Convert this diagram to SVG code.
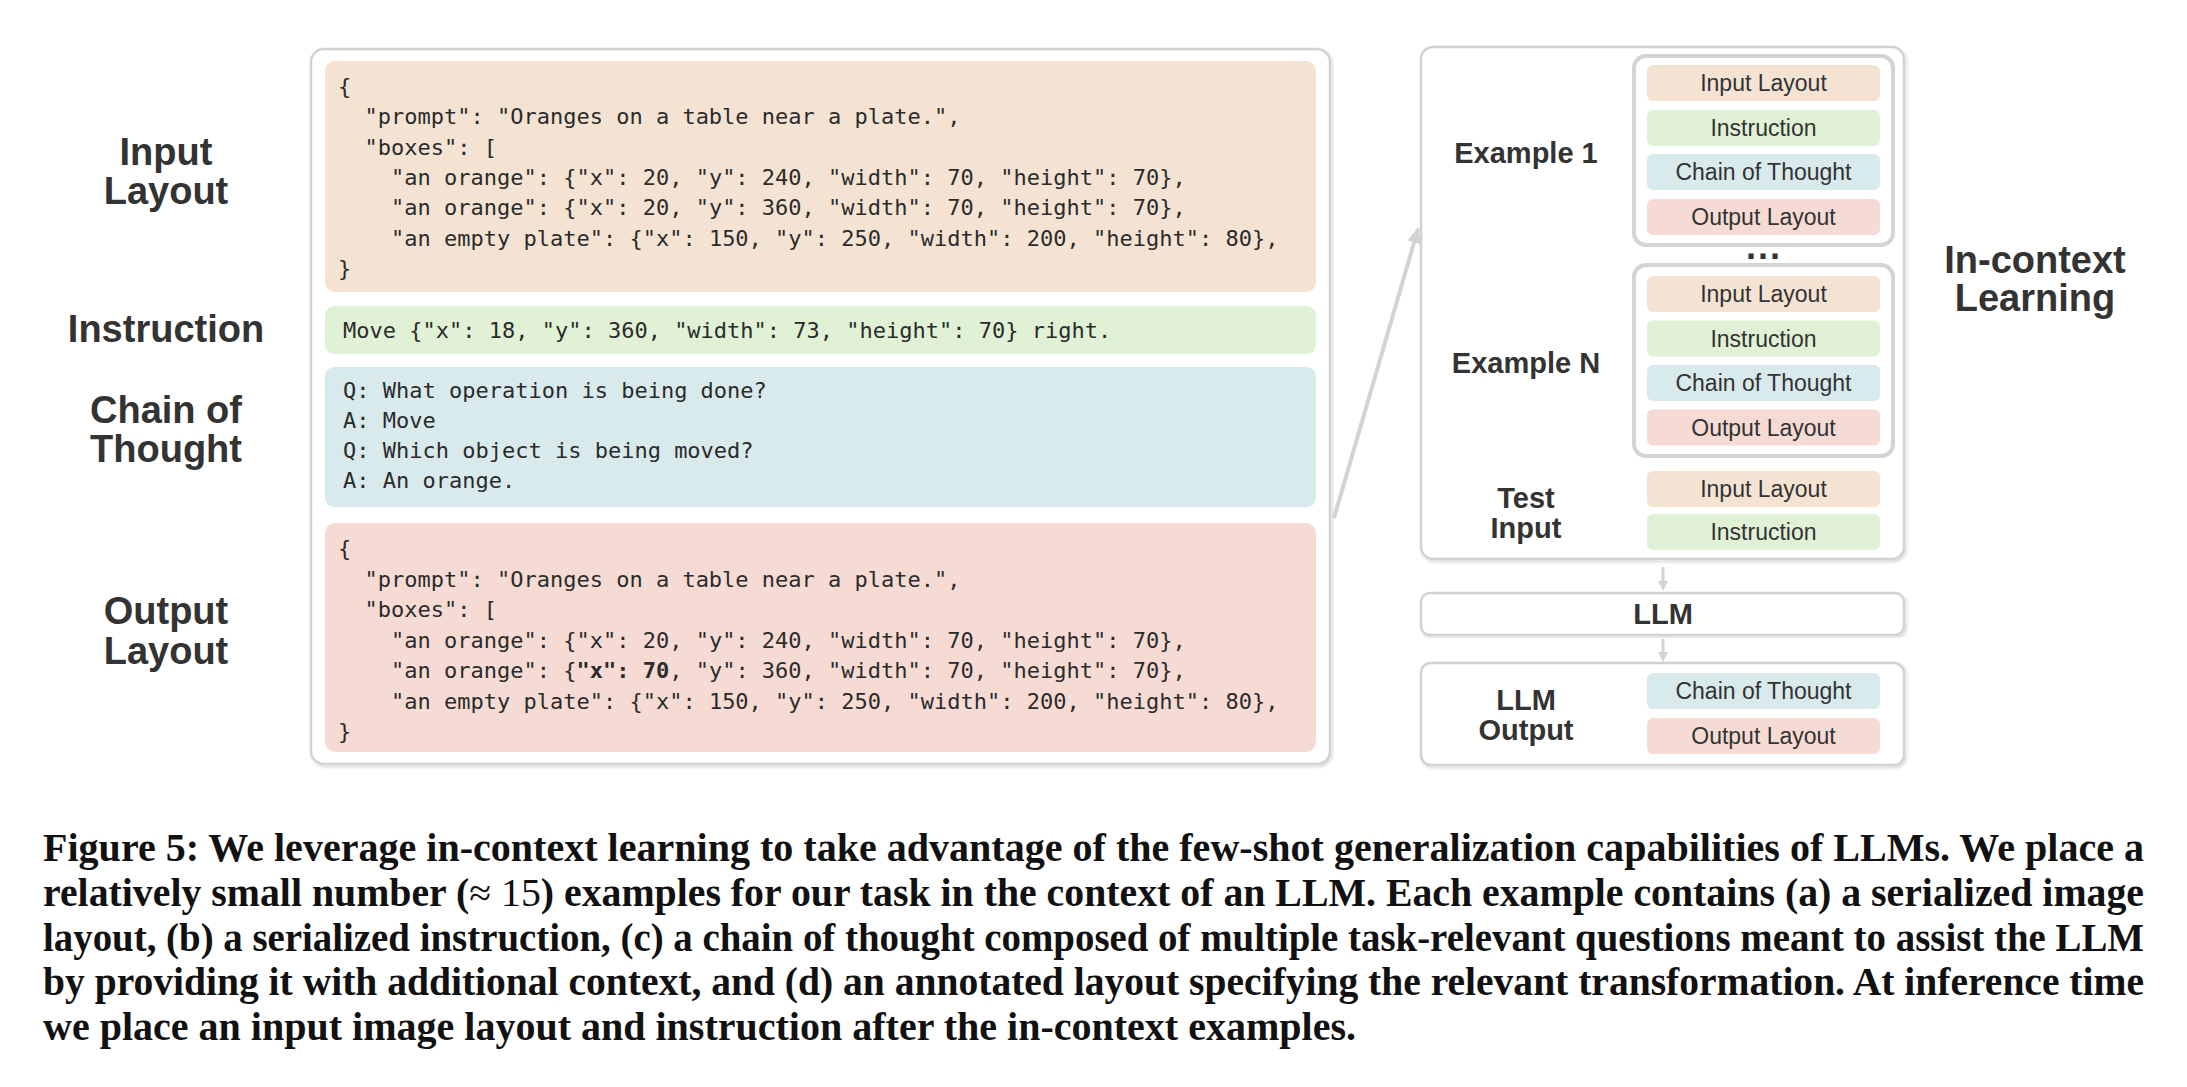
<svg xmlns="http://www.w3.org/2000/svg" width="2187" height="1087" viewBox="0 0 2187 1087">
<style>
.mono{font-family:"DejaVu Sans Mono","Liberation Mono",monospace;font-size:22px;fill:#2b2b2b}
.lbl{font-family:"Liberation Sans",Arial,sans-serif;font-weight:bold;fill:#333;text-anchor:middle}
.big{font-size:38px}
.mid{font-size:29px}
.sm{font-family:"Liberation Sans",Arial,sans-serif;font-size:23px;fill:#333;text-anchor:middle}
.cap{font-family:"Liberation Serif","Times New Roman",serif;font-weight:bold;font-size:39px;fill:#111}
.panel{fill:#fff;stroke:#d2d2d2;stroke-width:2.5}
.grp{fill:#fff;stroke:#d4d4d4;stroke-width:4}
.pIn{fill:#f4e3d3}.pIns{fill:#e0f1d6}.pCot{fill:#d9eaed}.pOut{fill:#f6dbd4}
.conn{stroke:#d3d3d3;fill:none}
</style>
<defs>
<filter id="sh" x="-5%" y="-5%" width="110%" height="110%">
<feDropShadow dx="1.5" dy="2" stdDeviation="1.5" flood-color="#000" flood-opacity="0.15"/>
</filter>
<marker id="ah" markerWidth="10" markerHeight="10" refX="7" refY="5" orient="auto" markerUnits="userSpaceOnUse" viewBox="0 0 10 10">
<path d="M0,0 L10,5 L0,10 z" fill="#d3d3d3"/>
</marker>
<marker id="ahBig" markerWidth="16" markerHeight="14" refX="14" refY="7" orient="auto" markerUnits="userSpaceOnUse" viewBox="0 0 16 14">
<path d="M0,0 L16,7 L0,14 z" fill="#d3d3d3"/>
</marker>
</defs>
<rect width="2187" height="1087" fill="#fff"/>

<!-- left labels -->
<g id="label-input-layout"><text class="lbl big" x="166" y="165">Input</text><text class="lbl big" x="166" y="204">Layout</text></g>
<g id="label-instruction"><text class="lbl big" x="166" y="342">Instruction</text></g>
<g id="label-cot"><text class="lbl big" x="166" y="423">Chain of</text><text class="lbl big" x="166" y="462">Thought</text></g>
<g id="label-output-layout"><text class="lbl big" x="166" y="624">Output</text><text class="lbl big" x="166" y="664">Layout</text></g>

<!-- main panel -->
<g id="main-panel">
<rect class="panel" x="311" y="49" width="1019" height="715" rx="13" filter="url(#sh)"/>
</g>
<g id="input-layout-block">
<rect class="pIn" x="325" y="61" width="991" height="231" rx="10"/>
<text class="mono" x="338" y="94">{</text>
<text class="mono" x="364.5" y="124.3">"prompt": "Oranges on a table near a plate.",</text>
<text class="mono" x="364.5" y="154.6">"boxes": [</text>
<text class="mono" x="391" y="184.9">"an orange": {"x": 20, "y": 240, "width": 70, "height": 70},</text>
<text class="mono" x="391" y="215.2">"an orange": {"x": 20, "y": 360, "width": 70, "height": 70},</text>
<text class="mono" x="391" y="245.5">"an empty plate": {"x": 150, "y": 250, "width": 200, "height": 80},</text>
<text class="mono" x="338" y="275.8">}</text>
</g>
<g id="instruction-block">
<rect class="pIns" x="325" y="306" width="991" height="48" rx="9"/>
<text class="mono" x="343" y="338">Move {"x": 18, "y": 360, "width": 73, "height": 70} right.</text>
</g>
<g id="cot-block">
<rect class="pCot" x="325" y="367" width="991" height="140" rx="9"/>
<text class="mono" x="343" y="398">Q: What operation is being done?</text>
<text class="mono" x="343" y="428">A: Move</text>
<text class="mono" x="343" y="458">Q: Which object is being moved?</text>
<text class="mono" x="343" y="488">A: An orange.</text>
</g>
<g id="output-layout-block">
<rect class="pOut" x="325" y="523" width="991" height="229" rx="10"/>
<text class="mono" x="338" y="556">{</text>
<text class="mono" x="364.5" y="586.5">"prompt": "Oranges on a table near a plate.",</text>
<text class="mono" x="364.5" y="617">"boxes": [</text>
<text class="mono" x="391" y="647.5">"an orange": {"x": 20, "y": 240, "width": 70, "height": 70},</text>
<text class="mono" x="391" y="678">"an orange": {<tspan font-weight="bold">"x": 70</tspan>, "y": 360, "width": 70, "height": 70},</text>
<text class="mono" x="391" y="708.5">"an empty plate": {"x": 150, "y": 250, "width": 200, "height": 80},</text>
<text class="mono" x="338" y="739">}</text>
</g>

<!-- right panel -->
<g id="icl-panel">
<rect class="panel" x="1421" y="47" width="483" height="512" rx="12" filter="url(#sh)"/>
</g>
<g id="example-1">
<text class="lbl mid" x="1526" y="163">Example 1</text>
<rect class="grp" x="1634" y="56" width="259" height="189" rx="12"/>
<rect class="pIn" x="1647" y="65" width="233" height="36" rx="6"/><text class="sm" x="1763.5" y="91">Input Layout</text>
<rect class="pIns" x="1647" y="110" width="233" height="36" rx="6"/><text class="sm" x="1763.5" y="136">Instruction</text>
<rect class="pCot" x="1647" y="154" width="233" height="36" rx="6"/><text class="sm" x="1763.5" y="180">Chain of Thought</text>
<rect class="pOut" x="1647" y="199" width="233" height="36" rx="6"/><text class="sm" x="1763.5" y="225">Output Layout</text>
</g>
<g id="ellipsis"><text class="lbl" style="font-size:36px;letter-spacing:2px" x="1764" y="259">...</text></g>
<g id="example-n">
<text class="lbl mid" x="1526" y="373">Example N</text>
<rect class="grp" x="1634" y="265" width="259" height="191" rx="12"/>
<rect class="pIn" x="1647" y="276" width="233" height="36" rx="6"/><text class="sm" x="1763.5" y="302">Input Layout</text>
<rect class="pIns" x="1647" y="320.5" width="233" height="36" rx="6"/><text class="sm" x="1763.5" y="346.5">Instruction</text>
<rect class="pCot" x="1647" y="365" width="233" height="36" rx="6"/><text class="sm" x="1763.5" y="391">Chain of Thought</text>
<rect class="pOut" x="1647" y="409.5" width="233" height="36" rx="6"/><text class="sm" x="1763.5" y="435.5">Output Layout</text>
</g>
<g id="test-input">
<text class="lbl mid" x="1526" y="508">Test</text><text class="lbl mid" x="1526" y="538">Input</text>
<rect class="pIn" x="1647" y="471" width="233" height="36" rx="6"/><text class="sm" x="1763.5" y="497">Input Layout</text>
<rect class="pIns" x="1647" y="514" width="233" height="36" rx="6"/><text class="sm" x="1763.5" y="540">Instruction</text>
</g>
<g id="in-context-label"><text class="lbl big" x="2035" y="273">In-context</text><text class="lbl big" x="2035" y="311">Learning</text></g>

<g id="llm">
<rect class="panel" x="1421" y="593" width="483" height="42" rx="9" filter="url(#sh)"/>
<text class="lbl mid" x="1663" y="624">LLM</text>
</g>
<g id="llm-output">
<rect class="panel" x="1421" y="663" width="483" height="102" rx="10" filter="url(#sh)"/>
<text class="lbl mid" x="1526" y="710">LLM</text><text class="lbl mid" x="1526" y="740">Output</text>
<rect class="pCot" x="1647" y="673" width="233" height="36" rx="6"/><text class="sm" x="1763.5" y="699">Chain of Thought</text>
<rect class="pOut" x="1647" y="718" width="233" height="36" rx="6"/><text class="sm" x="1763.5" y="744">Output Layout</text>
</g>

<g id="connectors">
<line class="conn" x1="1334" y1="518" x2="1418" y2="229" stroke-width="4" marker-end="url(#ahBig)"/>
<line class="conn" x1="1663" y1="567" x2="1663" y2="588" stroke-width="3" marker-end="url(#ah)"/>
<line class="conn" x1="1663" y1="639" x2="1663" y2="659" stroke-width="3" marker-end="url(#ah)"/>
</g>

<g id="caption">
<text class="cap" x="43" y="861" textLength="2101" lengthAdjust="spacingAndGlyphs">Figure 5: We leverage in-context learning to take advantage of the few-shot generalization capabilities of LLMs. We place a</text>
<text class="cap" x="43" y="906" textLength="2101" lengthAdjust="spacingAndGlyphs">relatively small number (<tspan font-weight="normal">≈ 15</tspan>) examples for our task in the context of an LLM. Each example contains (a) a serialized image</text>
<text class="cap" x="43" y="951" textLength="2101" lengthAdjust="spacingAndGlyphs">layout, (b) a serialized instruction, (c) a chain of thought composed of multiple task-relevant questions meant to assist the LLM</text>
<text class="cap" x="43" y="995" textLength="2101" lengthAdjust="spacingAndGlyphs">by providing it with additional context, and (d) an annotated layout specifying the relevant transformation. At inference time</text>
<text class="cap" x="43" y="1040" textLength="1313" lengthAdjust="spacingAndGlyphs">we place an input image layout and instruction after the in-context examples.</text>
</g>
</svg>
